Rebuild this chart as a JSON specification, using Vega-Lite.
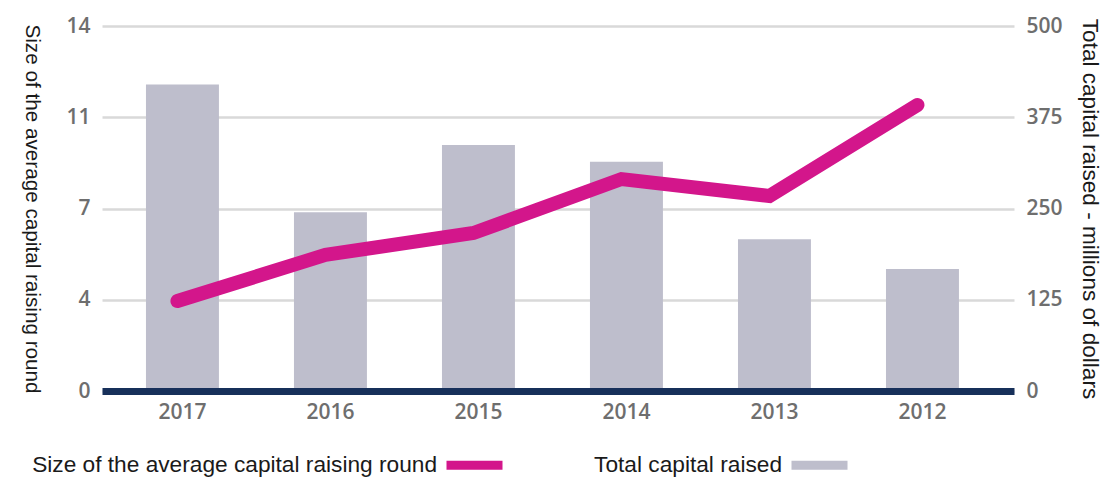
{
  "$schema": "https://vega.github.io/schema/vega-lite/v6.json",
  "width": 912,
  "height": 365,
  "autosize": "none",
  "padding": {"left": 102, "top": 26, "right": 92, "bottom": 86},
  "background": "white",
  "config": {
    "view": {"stroke": null},
    "axis": {"labelFont": "Open Sans", "labelFontWeight": 600, "labelFontSize": 21, "labelColor": "#6e6e6e", "titleFont": "Liberation Sans", "titleFontWeight": "normal", "titleFontSize": 18, "titleColor": "#1a1a1a", "ticks": false},
    "legend": {"labelFont": "Liberation Sans", "labelFontSize": 22.7, "labelColor": "#1a1a1a", "labelLimit": 0}
  },
  "data": {"values": [
    {"year": "2017", "avg": 3.45, "total": 420},
    {"year": "2016", "avg": 5.22, "total": 245},
    {"year": "2015", "avg": 6.06, "total": 337},
    {"year": "2014", "avg": 8.13, "total": 314},
    {"year": "2013", "avg": 7.48, "total": 208},
    {"year": "2012", "avg": 10.97, "total": 167}
  ]},
  "encoding": {
    "x": {"field": "year", "type": "ordinal", "sort": null,
      "scale": {"paddingInner": 0.507, "paddingOuter": 0.3345, "align": 0.444},
      "axis": {"title": null, "labelAngle": 0, "domainColor": "#17305A", "domainWidth": 7, "labelPadding": 10, "zindex": 1}}
  },
  "layer": [
    {
      "mark": {"type": "bar", "opacity": 1},
      "encoding": {
        "y": {"field": "total", "type": "quantitative",
          "scale": {"domain": [0, 500], "nice": false},
          "axis": {"orient": "right", "values": [0, 125, 250, 375, 500], "grid": false, "domain": false, "labelPadding": 12,
            "title": "Total capital raised - millions of dollars", "titleAngle": 90, "titlePadding": 15, "titleFontSize": 22.6}},
        "color": {"datum": "Total capital raised", "type": "nominal",
          "scale": {"domain": ["Size of the average capital raising round", "Total capital raised"], "range": ["#D3168B", "#BEBECC"]},
          "legend": {"orient": "none", "legendX": 340, "legendY": 406.5, "direction": "horizontal", "title": null,
            "symbolType": "stroke", "symbolSize": 3136, "symbolStrokeWidth": 9, "labelAlign": "right", "labelOffset": -70, "columnPadding": 73}}
      }
    },
    {
      "mark": {"type": "line", "strokeWidth": 14, "strokeCap": "round", "strokeJoin": "miter", "xOffset": -5},
      "encoding": {
        "y": {"field": "avg", "type": "quantitative",
          "scale": {"domain": [0, 14], "nice": false},
          "axis": {"orient": "left", "values": [0, 3.5, 7, 10.5, 14], "labelExpr": "format(datum.value, '.0f')", "grid": true, "gridColor": "#d9d9d9", "gridWidth": 2.5, "domain": false, "labelPadding": 12,
            "title": "Size of the average capital raising round", "titleAngle": 90, "titlePadding": 44, "titleFontSize": 20.7}},
        "color": {"datum": "Size of the average capital raising round", "type": "nominal"}
      }
    }
  ],
  "resolve": {"scale": {"y": "independent"}}
}
